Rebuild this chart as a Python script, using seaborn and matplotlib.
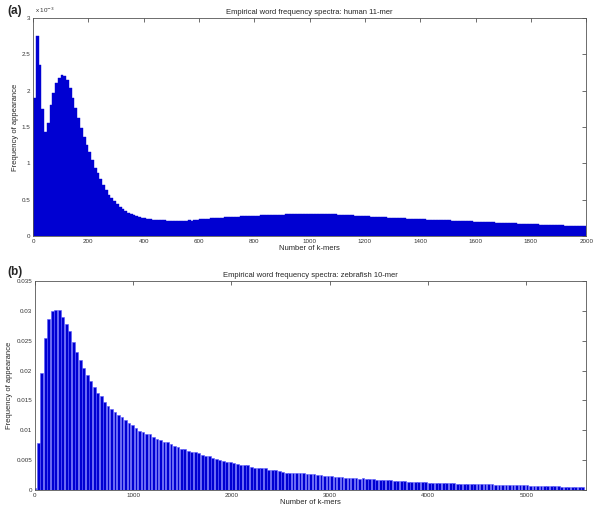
import numpy as np
import pandas as pd
import matplotlib
matplotlib.use("Agg")
import matplotlib.pyplot as plt
import matplotlib.ticker as mticker
import seaborn as sns

# (a) human 11-mer: frequency per 10-wide k-mer bin (values in units of 1e-3)
human_bin_width = 10
human_freq_e3 = [
    1.90, 2.75, 2.35, 1.75, 1.43, 1.55, 1.80, 1.97, 2.10, 2.17,
    2.22, 2.20, 2.14, 2.03, 1.90, 1.76, 1.63, 1.48, 1.36, 1.25,
    1.15, 1.04, 0.94, 0.86, 0.78, 0.70, 0.63, 0.57, 0.52, 0.48,
    0.44, 0.40, 0.37, 0.34, 0.32, 0.30, 0.285, 0.27, 0.26, 0.25,
    0.24, 0.235, 0.23, 0.225, 0.222, 0.22, 0.215, 0.213, 0.21, 0.208,
    0.206, 0.208, 0.205, 0.206, 0.208, 0.21, 0.214, 0.212, 0.218, 0.225,
    0.228, 0.232, 0.235, 0.238, 0.242, 0.244, 0.248, 0.25, 0.253, 0.256,
    0.258, 0.26, 0.262, 0.265, 0.266, 0.268, 0.27, 0.272, 0.275, 0.276,
    0.278, 0.28, 0.282, 0.284, 0.285, 0.287, 0.288, 0.29, 0.29, 0.292,
    0.293, 0.295, 0.295, 0.297, 0.298, 0.30, 0.30, 0.301, 0.302, 0.302,
    0.303, 0.305, 0.303, 0.302, 0.302, 0.30, 0.30, 0.298, 0.297, 0.295,
    0.293, 0.29, 0.288, 0.286, 0.284, 0.282, 0.28, 0.277, 0.274, 0.272,
    0.27, 0.268, 0.266, 0.264, 0.262, 0.26, 0.258, 0.255, 0.253, 0.25,
    0.248, 0.246, 0.244, 0.242, 0.24, 0.238, 0.236, 0.234, 0.232, 0.231,
    0.23, 0.228, 0.226, 0.225, 0.223, 0.221, 0.219, 0.218, 0.216, 0.215,
    0.213, 0.211, 0.209, 0.208, 0.206, 0.204, 0.203, 0.201, 0.199, 0.198,
    0.196, 0.194, 0.192, 0.191, 0.189, 0.188, 0.186, 0.184, 0.182, 0.181,
    0.18, 0.178, 0.176, 0.174, 0.173, 0.171, 0.169, 0.168, 0.166, 0.164,
    0.163, 0.161, 0.159, 0.157, 0.156, 0.154, 0.152, 0.151, 0.149, 0.147,
    0.146, 0.144, 0.142, 0.141, 0.139, 0.137, 0.135, 0.133, 0.131, 0.13,
]

# (b) zebrafish 10-mer: frequency per 35.5-wide k-mer bin
zebra_bin_width = 35.5
zebra_freq = [
    0.0003, 0.0078, 0.0196, 0.0255, 0.0286, 0.0300, 0.0302, 0.0301, 0.0290, 0.0278,
    0.0266, 0.0248, 0.0231, 0.0218, 0.0204, 0.0192, 0.0183, 0.0173, 0.0163, 0.0157,
    0.0148, 0.0141, 0.0136, 0.0131, 0.0126, 0.0122, 0.0117, 0.0112, 0.0108, 0.0103,
    0.0099, 0.0097, 0.0093, 0.0093, 0.0088, 0.0086, 0.0084, 0.0081, 0.0081, 0.0077,
    0.0074, 0.0072, 0.0068, 0.0069, 0.0065, 0.0063, 0.0063, 0.0061, 0.0058, 0.0057,
    0.0056, 0.0054, 0.0052, 0.0050, 0.0048, 0.0047, 0.0046, 0.0045, 0.0043, 0.0042,
    0.0041, 0.0041, 0.0039, 0.0037, 0.0037, 0.0036, 0.0036, 0.0034, 0.0033, 0.0033,
    0.0032, 0.0030, 0.0029, 0.0029, 0.0029, 0.00283, 0.0028, 0.00278, 0.00272, 0.00272,
    0.00261, 0.00256, 0.0025, 0.00239, 0.00236, 0.00228, 0.00222, 0.00217, 0.00211, 0.00206,
    0.00203, 0.00197, 0.00194, 0.0019, 0.00192, 0.00186, 0.00181, 0.00178, 0.00172, 0.00169,
    0.00167, 0.00161, 0.00158, 0.00156, 0.0015, 0.00147, 0.00144, 0.00139, 0.00136, 0.00133,
    0.00131, 0.00128, 0.00125, 0.00122, 0.0012, 0.00117, 0.00114, 0.00112, 0.00111, 0.00108,
    0.00107, 0.00106, 0.00103, 0.00103, 0.001, 0.001, 0.00099, 0.00097, 0.00094, 0.00093,
    0.00092, 0.0009, 0.00089, 0.00088, 0.00086, 0.00084, 0.00083, 0.00081, 0.00079, 0.00077,
    0.00075, 0.00073, 0.00072, 0.0007, 0.00069, 0.00067, 0.00065, 0.00063, 0.00062, 0.0006,
    0.00058, 0.00056, 0.00055, 0.00054, 0.00052, 0.0005, 0.00049, 0.00048,
]

titles = ["Empirical word frequency spectra: human 11-mer",
          "Empirical word frequency spectra: zebrafish 10-mer"]
panel_tags = ["(a)", "(b)"]
x_label = "Number of k-mers"
y_label = "Frequency of appearance"

BLUE = "#0000d2"


def style_axis(ax, ylabelpad):
    ax.tick_params(direction="in", top=True, right=True, length=3, width=0.5,
                   labelsize=4.5, colors="#333333", pad=2)
    for s in ax.spines.values():
        s.set_linewidth(0.6)
        s.set_color("#555555")
    ax.set_xlabel(x_label, fontsize=5.5, labelpad=1)
    ax.set_ylabel(y_label, fontsize=5.5, labelpad=ylabelpad)


def main():
    sns.set_style("white")
    plt.rcParams["font.family"] = ["Liberation Sans", "DejaVu Sans"]

    fig = plt.figure(figsize=(6.0, 5.14), dpi=100)
    ax_a = fig.add_axes([0.055, 0.541, 0.922, 0.424])
    ax_b = fig.add_axes([0.058, 0.047, 0.918, 0.406])

    # panel (a)
    human_freq = np.array(human_freq_e3) * 1e-3
    h_edges = np.arange(len(human_freq) + 1) * human_bin_width
    df_a = pd.DataFrame({"kmers": h_edges[:-1] + human_bin_width / 2,
                         "freq": human_freq})
    sns.histplot(data=df_a, x="kmers", weights="freq", bins=list(h_edges), ax=ax_a,
                 color=BLUE, alpha=1, edgecolor=BLUE, linewidth=0.3)
    ax_a.set_xlim(0, 2000)
    ax_a.set_ylim(0, 3e-3)
    ax_a.set_xticks(np.arange(0, 2001, 200))
    ax_a.set_yticks(np.arange(0, 3.01e-3, 0.5e-3))
    ax_a.yaxis.set_major_formatter(mticker.FuncFormatter(lambda v, p: f"{v * 1e3:g}"))
    ax_a.text(0.004, 1.012, r"x 10$^{-3}$", transform=ax_a.transAxes,
              fontsize=4.5, color="#333333", va="bottom", ha="left")
    style_axis(ax_a, 2)

    # panel (b)
    z_centers = np.arange(len(zebra_freq)) * zebra_bin_width
    z_edges = np.append(z_centers - zebra_bin_width / 2,
                        z_centers[-1] + zebra_bin_width / 2)
    df_b = pd.DataFrame({"kmers": z_centers, "freq": zebra_freq})
    sns.histplot(data=df_b, x="kmers", weights="freq", bins=list(z_edges), ax=ax_b,
                 color=BLUE, alpha=1, shrink=0.8, edgecolor="#5a5aff", linewidth=0.4)
    ax_b.set_xlim(0, 5602)
    ax_b.set_ylim(0, 0.035)
    ax_b.set_xticks(np.arange(0, 5001, 1000))
    ax_b.set_yticks(np.arange(0, 0.0351, 0.005))
    ax_b.yaxis.set_major_formatter(mticker.FuncFormatter(lambda v, p: f"{v:g}"))
    style_axis(ax_b, 2)

    for ax, title in zip([ax_a, ax_b], titles):
        ax.set_title(title, fontsize=5.5, pad=3)

    fig.text(0.012, 0.978, panel_tags[0], fontsize=8.5, fontweight="bold", va="center")
    fig.text(0.012, 0.471, panel_tags[1], fontsize=8.5, fontweight="bold", va="center")

    fig.savefig("out.png", dpi=100, facecolor="white")
    plt.close(fig)


if __name__ == "__main__":
    main()
